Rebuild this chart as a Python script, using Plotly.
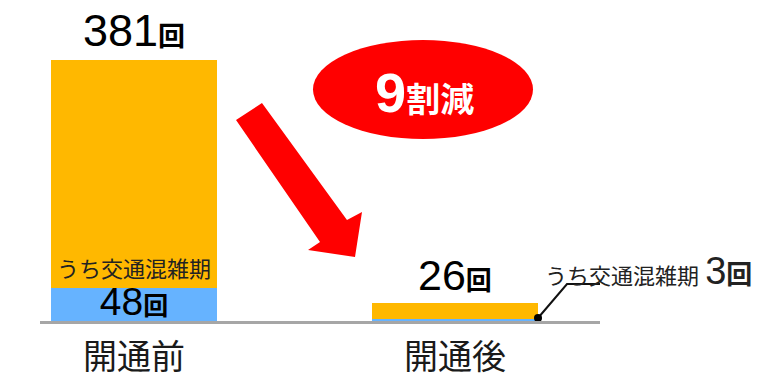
import plotly.graph_objects as go

# ---- data ----
categories = ["開通前", "開通後"]
total_counts = [381, 26]          # 回 (all)
congested_counts = [48, 3]        # うち交通混雑期
other_counts = [t - c for t, c in zip(total_counts, congested_counts)]
reduction_label = "9割減"

W, H = 770, 378
L, R, T, B = 40, 170, 60, 57          # plot area 40..600 x 60..321
PW, PH = W - L - R, H - T - B


def px(X):
    return (X - L) / PW


def py(Y):
    return (H - B - Y) / PH


xpos = [0, 1]
bar_w = 166 / 321
ORANGE = "#FFB800"
BLUE = "#66B3FF"
RED = "#FF0000"
NUM_FONT = "Liberation Sans, Arial, Noto Sans CJK JP"
JP_FONT = "Noto Sans CJK JP, Liberation Sans"

fig = go.Figure()
fig.add_bar(x=xpos, y=congested_counts, width=bar_w, marker=dict(color=BLUE, line=dict(width=0)),
            name="うち交通混雑期", hoverinfo="skip")
fig.add_bar(x=xpos, y=other_counts, width=bar_w, marker=dict(color=ORANGE, line=dict(width=0)),
            name="その他", hoverinfo="skip")


def num_txt(n, big, small):
    return (f"<span style='font-size:{big}px'>{n}</span>"
            f"<b><span style='font-family:Noto Sans CJK JP;font-size:{small}px'>回</span></b>")


ann = []
# total labels above bars
ann.append(dict(x=xpos[0], y=total_counts[0], xref="x", yref="y", text=num_txt(total_counts[0], 45, 27),
                showarrow=False, yanchor="bottom", yshift=2, font=dict(family=NUM_FONT, color="#000")))
ann.append(dict(x=xpos[1], y=total_counts[1], xref="x", yref="y", text=num_txt(total_counts[1], 43, 26),
                showarrow=False, yanchor="bottom", yshift=2, font=dict(family=NUM_FONT, color="#000")))
# congested label inside bar 1 (two lines, one text)
ann.append(dict(x=xpos[0], y=0, xref="x", yref="y",
                text="<span style='font-family:Noto Sans CJK JP;font-size:22px;color:#222'>うち交通混雑期</span><br>"
                     + num_txt(congested_counts[0], 39, 25),
                showarrow=False, yanchor="bottom", yshift=-4,
                font=dict(family=NUM_FONT, size=29, color="#000")))
# congested label for bar 2 (leader)
ann.append(dict(x=px(543), y=py(271), xref="paper", yref="paper", xanchor="left", yanchor="middle",
                text="うち交通混雑期 " + num_txt(congested_counts[1], 38, 26),
                showarrow=False, font=dict(family=NUM_FONT, size=22, color="#222")))
# reduction bubble text
ann.append(dict(x=px(424), y=py(93), xref="paper", yref="paper", xanchor="center", yanchor="middle",
                text=f"<b><span style='font-size:56px'>{reduction_label[0]}</span>"
                     f"<span style='font-family:Noto Sans CJK JP;font-size:34px'>{reduction_label[1:]}</span></b>",
                showarrow=False, font=dict(family=NUM_FONT, color="#FFFFFF")))
# category labels (placed as text under the axis)
for xi, cat in zip(xpos, categories):
    ann.append(dict(x=xi, y=py(354), xref="x", yref="paper", xanchor="center", yanchor="middle",
                    text=cat, showarrow=False, font=dict(family=JP_FONT, size=34, color="#1a1a1a")))

shapes = []
# red ellipse
shapes.append(dict(type="circle", xref="paper", yref="paper", x0=px(313), x1=px(533), y0=py(139), y1=py(40),
                   fillcolor=RED, line=dict(width=0), layer="below"))
# red arrow
pts = [(262, 103), (347, 220), (362, 212), (355, 257), (308, 250), (320, 242), (236, 120)]
path = "M " + " L ".join(f"{px(a):.4f},{py(b):.4f}" for a, b in pts) + " Z"
shapes.append(dict(type="path", xref="paper", yref="paper", path=path, fillcolor=RED, line=dict(width=0)))
# leader line from bar 2 corner
anchor_x = xpos[1] + bar_w / 2
shapes.append(dict(type="path", xref="x", yref="y", xsizemode="pixel", ysizemode="pixel",
                   xanchor=anchor_x, yanchor=0, path="M0,3 L29,37 L215,37",
                   line=dict(color="#111", width=2)))
shapes.append(dict(type="circle", xref="x", yref="y", xsizemode="pixel", ysizemode="pixel",
                   xanchor=anchor_x, yanchor=0, x0=-4, x1=4, y0=-1, y1=7,
                   fillcolor="#000", line=dict(width=0)))

fig.update_layout(
    width=W, height=H, margin=dict(l=L, r=R, t=T, b=B, autoexpand=False),
    barmode="stack", showlegend=False, plot_bgcolor="white", paper_bgcolor="white",
    annotations=ann, shapes=shapes,
    xaxis=dict(range=[-94 / 321, 1 + 145 / 321], tickvals=xpos, ticktext=["", ""], showgrid=False,
               zeroline=False, showline=True, linecolor="#A6A6A6", linewidth=3, ticks="",
               showticklabels=False, fixedrange=True),
    yaxis=dict(range=[0, total_counts[0]], visible=False, fixedrange=True),
)

fig.write_html("out.html")
